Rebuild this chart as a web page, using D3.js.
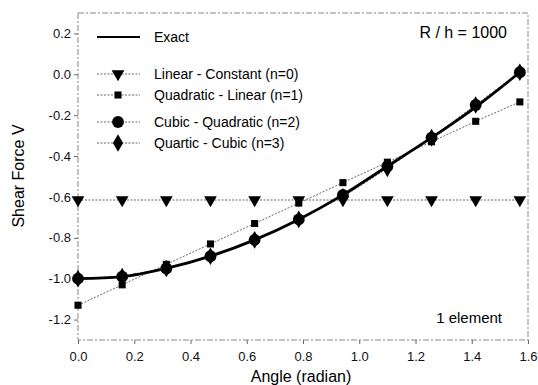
<!DOCTYPE html>
<html>
<head>
<meta charset="utf-8">
<script src="https://cdn.jsdelivr.net/npm/d3@7"></script>
<style>
  body { margin: 0; background: #fff; }
  svg { font-family: "Liberation Sans", Arial, sans-serif; }
</style>
</head>
<body>
<div id="chart"></div>
<script>
// angles in radian (11 stations along one element)
const angles = [0.000, 0.157, 0.314, 0.471, 0.628, 0.785, 0.942, 1.100, 1.257, 1.414, 1.571];

const exactV     = [-1.00, -0.99, -0.95, -0.89, -0.81, -0.71, -0.59, -0.45, -0.31, -0.16, 0.01];
const linConstV  = [-0.615, -0.615, -0.615, -0.615, -0.615, -0.615, -0.615, -0.615, -0.615, -0.615, -0.615];
const quadLinV   = [-1.13, -1.03, -0.93, -0.83, -0.73, -0.63, -0.53, -0.43, -0.33, -0.23, -0.135];
const cubQuadV   = [-1.00, -0.99, -0.95, -0.89, -0.81, -0.71, -0.59, -0.45, -0.31, -0.15, 0.01];
const quarCubV   = [-1.00, -0.99, -0.95, -0.89, -0.81, -0.71, -0.60, -0.46, -0.31, -0.15, 0.01];

const xTicks = [0.0, 0.2, 0.4, 0.6, 0.8, 1.0, 1.2, 1.4, 1.6];
const yTicks = [0.2, 0.0, -0.2, -0.4, -0.6, -0.8, -1.0, -1.2];

const legendLabels = ["Exact", "Linear - Constant (n=0)", "Quadratic - Linear (n=1)",
                      "Cubic - Quadratic (n=2)", "Quartic - Cubic (n=3)"];

const size = { width: 538, height: 385, left: 78, right: 528, top: 13, bottom: 340 };

const svg = d3.select("#chart").append("svg")
    .attr("width", size.width)
    .attr("height", size.height);

const xScale = d3.scaleLinear().domain([0, 1.6]).range([size.left, size.right]);
const yScale = d3.scaleLinear().domain([-1.3, 0.3]).range([size.bottom, size.top]);

// frame (faded, broken look of the scanned original)
svg.append("rect")
    .attr("x", size.left).attr("y", size.top)
    .attr("width", size.right - size.left).attr("height", size.bottom - size.top)
    .attr("fill", "none")
    .attr("stroke", "#888")
    .attr("stroke-width", 1)
    .attr("stroke-dasharray", "6,2,2,2");

const xAxis = d3.axisBottom(xScale).tickValues(xTicks).tickFormat(d3.format(".1f")).tickSize(4).tickPadding(8);
const yAxis = d3.axisLeft(yScale).tickValues(yTicks).tickFormat(d => d3.format(".1f")(d).replace("−", "-")).tickSize(4).tickPadding(3);

const gx = svg.append("g").attr("transform", "translate(0," + size.bottom + ")").call(xAxis);
const gy = svg.append("g").attr("transform", "translate(" + size.left + ",0)").call(yAxis);
[gx, gy].forEach(g => {
    g.select(".domain").remove();
    g.selectAll("line").attr("stroke", "#666");
    g.selectAll("text").attr("fill", "#111").style("font-size", "13px");
});

// axis titles
svg.append("text")
    .attr("x", 301).attr("y", 382)
    .attr("text-anchor", "middle")
    .style("font-size", "16px")
    .text("Angle (radian)");

svg.append("text")
    .attr("transform", "translate(24,176) rotate(-90)")
    .attr("text-anchor", "middle")
    .style("font-size", "16px")
    .text("Shear Force V");

svg.append("text")
    .attr("x", 507).attr("y", 38)
    .attr("text-anchor", "end")
    .style("font-size", "16px")
    .text("R / h = 1000");

svg.append("text")
    .attr("x", 502).attr("y", 323)
    .attr("text-anchor", "end")
    .style("font-size", "15px")
    .text("1 element");

const line = d3.line()
    .x(d => xScale(d[0]))
    .y(d => yScale(d[1]));

const smooth = d3.line()
    .x(d => xScale(d[0]))
    .y(d => yScale(d[1]))
    .curve(d3.curveMonotoneX);

const symbols = [
    null,
    d3.symbol().type(d3.symbolTriangle).size(70),
    d3.symbol().type(d3.symbolSquare).size(50),
    d3.symbol().type(d3.symbolCircle).size(110),
    d3.symbol().type(d3.symbolDiamond).size(90)
];
const rotations = [0, 180, 0, 0, 0];

const series = [exactV, linConstV, quadLinV, cubQuadV, quarCubV];

// dotted lines of the approximations
[1, 2, 3, 4].forEach(i => {
    svg.append("path")
        .datum(angles.map((a, k) => [a, series[i][k]]))
        .attr("fill", "none")
        .attr("stroke", "#555")
        .attr("stroke-width", 0.9)
        .attr("stroke-dasharray", "2,1.5")
        .attr("d", line);
});

// exact solution
svg.append("path")
    .datum(angles.map((a, k) => [a, exactV[k]]))
    .attr("fill", "none")
    .attr("stroke", "#000")
    .attr("stroke-width", 2.8)
    .attr("d", smooth);

[1, 2, 3, 4].forEach(i => {
    svg.append("g").selectAll("path")
        .data(angles.map((a, k) => [a, series[i][k]]))
        .join("path")
        .attr("d", symbols[i])
        .attr("fill", "#000")
        .attr("transform", d => "translate(" + xScale(d[0]) + "," + yScale(d[1]) + ") rotate(" + rotations[i] + ")");
});

// legend
const legendY = [37, 74, 95, 122, 143];
const legend = svg.append("g");
legendLabels.forEach((label, i) => {
    const row = legend.append("g").attr("transform", "translate(0," + legendY[i] + ")");
    row.append("line")
        .attr("x1", 97).attr("x2", 140)
        .attr("stroke", i === 0 ? "#000" : "#555")
        .attr("stroke-width", i === 0 ? 2 : 0.9)
        .attr("stroke-dasharray", i === 0 ? null : "2,1.5");
    if (symbols[i]) {
        row.append("path")
            .attr("d", symbols[i])
            .attr("fill", "#000")
            .attr("transform", "translate(118,0) rotate(" + rotations[i] + ")");
    }
    row.append("text")
        .attr("x", 154).attr("y", 5)
        .style("font-size", "14px")
        .text(label);
});
</script>
</body>
</html>
